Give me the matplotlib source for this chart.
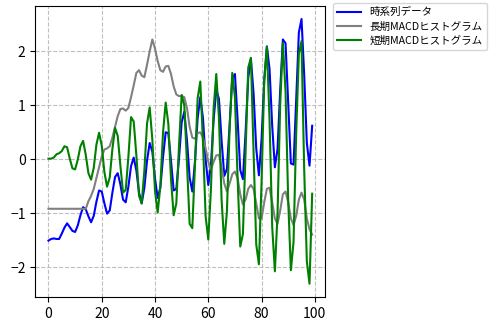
import matplotlib
matplotlib.use("Agg")
import matplotlib.pyplot as plt

plt.rcParams['font.family'] = ['Noto Sans CJK JP', 'DejaVu Sans']

# x axis: sample index 0..99
x = list(range(100))

series = [
    -1.51, -1.48, -1.47, -1.48, -1.48, -1.38, -1.27, -1.19, -1.26, -1.33,
    -1.35, -1.23, -1.04, -0.89, -0.93, -1.06, -1.17, -1.05, -0.79, -0.58,
    -0.60, -0.82, -1.01, -0.95, -0.62, -0.33, -0.26, -0.47, -0.75, -0.80,
    -0.51, -0.13, 0.03, -0.21, -0.62, -0.82, -0.53, -0.03, 0.30, 0.14,
    -0.36, -0.72, -0.53, 0.03, 0.50, 0.48, -0.03, -0.58, -0.55, 0.01,
    0.68, 0.88, 0.35, -0.34, -0.60, -0.04, 0.76, 1.15, 0.76, -0.01,
    -0.48, -0.10, 0.73, 1.29, 1.12, 0.34, -0.31, -0.18, 0.63, 1.50,
    1.58, 0.74, -0.20, -0.37, 0.50, 1.51, 1.86, 1.22, 0.20, -0.30,
    0.37, 1.46, 2.09, 1.67, 0.61, -0.15, 0.19, 1.29, 2.22, 2.15,
    1.04, -0.08, -0.10, 1.10, 2.35, 2.60, 1.57, 0.30, -0.12, 0.62,
]

macd_long = [
    -0.92, -0.92, -0.92, -0.92, -0.92, -0.92, -0.92, -0.92, -0.92, -0.92,
    -0.92, -0.92, -0.92, -0.92, -0.92, -0.78, -0.68, -0.55, -0.35, -0.15,
    0.05, 0.18, 0.20, 0.24, 0.40, 0.60, 0.80, 0.93, 0.94, 0.90,
    0.95, 1.15, 1.37, 1.60, 1.65, 1.55, 1.52, 1.75, 2.00, 2.22,
    2.05, 1.82, 1.65, 1.62, 1.72, 1.73, 1.58, 1.35, 1.20, 1.17,
    1.17, 1.15, 0.95, 0.60, 0.40, 0.38, 0.48, 0.50, 0.40, 0.20,
    -0.05, -0.19, -0.05, 0.07, 0.08, -0.15, -0.45, -0.60, -0.45, -0.28,
    -0.23, -0.35, -0.65, -0.84, -0.75, -0.55, -0.48, -0.55, -0.82, -1.10,
    -1.10, -0.80, -0.55, -0.53, -0.80, -1.10, -1.20, -0.95, -0.65, -0.60,
    -0.80, -1.10, -1.22, -1.05, -0.75, -0.62, -0.75, -1.10, -1.30, -1.40,
]

macd_short = [
    0.01, 0.01, 0.03, 0.09, 0.11, 0.15, 0.24, 0.22, 0.01, -0.17,
    -0.19, -0.01, 0.24, 0.34, 0.08, -0.26, -0.38, -0.16, 0.27, 0.49,
    0.25, -0.24, -0.51, -0.34, 0.19, 0.58, 0.43, -0.12, -0.62, -0.57,
    0.04, 0.78, 0.70, 0.07, -0.68, -0.82, -0.21, 0.66, 0.96, 0.36,
    -0.59, -0.99, -0.50, 0.49, 1.05, 0.66, -0.37, -1.04, -0.82, 0.24,
    1.19, 1.00, -0.08, -1.20, -1.28, -0.11, 1.13, 1.44, 0.32, -1.06,
    -1.49, -0.55, 0.94, 1.58, 0.77, -0.76, -1.57, -0.96, 0.56, 1.60,
    1.15, -0.35, -1.62, -1.39, 0.13, 1.70, 1.88, 0.13, -1.58, -1.95,
    -0.42, 1.46, 2.09, 0.72, -1.26, -2.08, -1.00, 1.02, 2.16, 1.26,
    -0.77, -2.06, -1.54, 0.49, 1.95, 2.19, -0.18, -1.90, -2.31, -0.64,
]

labels = ['時系列データ', '長期MACDヒストグラム', '短期MACDヒストグラム']

fig = plt.figure(figsize=(4.9, 3.2), dpi=100)
ax = fig.add_axes([0.072, 0.072, 0.592, 0.91])

ax.plot(x, series, color='blue', lw=1.5, label=labels[0])
ax.plot(x, macd_long, color='gray', lw=1.5, label=labels[1])
ax.plot(x, macd_short, color='green', lw=1.5, label=labels[2])

ax.grid(True, linestyle='--', color='#b0b0b0', alpha=0.8)
ax.set_xticks([0, 20, 40, 60, 80, 100])
ax.set_yticks([-2, -1, 0, 1, 2])

ax.legend(loc='upper left', bbox_to_anchor=(1.025, 1.01), borderaxespad=0,
          fontsize=7.6, handlelength=2.3, labelspacing=0.4)

plt.savefig("out.png", dpi=100)
